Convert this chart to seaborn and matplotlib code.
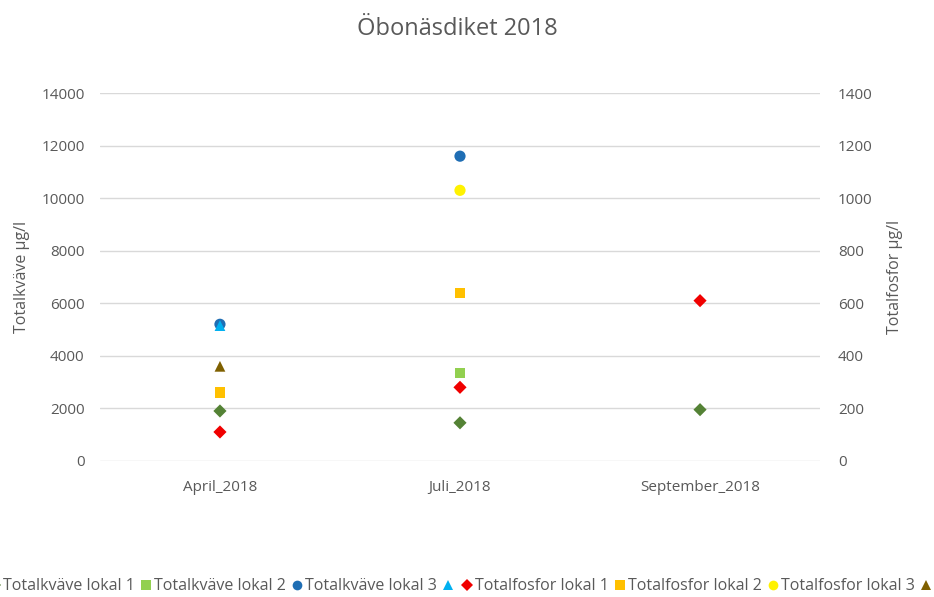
import matplotlib
matplotlib.use("Agg")
import matplotlib.pyplot as plt
import seaborn as sns
import pandas as pd
from matplotlib import font_manager

categories = ["April_2018", "Juli_2018", "September_2018"]

# Totalkväve (left axis, µg/l)
kvave_lokal1 = [1900, 1450, 1950]
kvave_lokal2 = [None, 3350, None]
kvave_lokal3 = [5200, 11600, None]
kvave_lokal4 = [5150, None, None]
# Totalfosfor (right axis, µg/l)
fosfor_lokal1 = [110, 280, 610]
fosfor_lokal2 = [260, 640, None]
fosfor_lokal3 = [None, 1030, None]
fosfor_lokal4 = [360, None, None]

left_ticks = [0, 2000, 4000, 6000, 8000, 10000, 12000, 14000]
right_ticks = [0, 200, 400, 600, 800, 1000, 1200, 1400]

names = set(f.name for f in font_manager.fontManager.ttflist)
fam = "Open Sans" if "Open Sans" in names else "DejaVu Sans"

sns.set_theme(style="white")
plt.rcParams["font.family"] = [fam, "DejaVu Sans"]

grey = "#595959"
fig = plt.figure(figsize=(9.34, 5.97), dpi=100)
ax = fig.add_axes([0.107, 0.228, 0.771, 0.616])
ax2 = ax.twinx()

series = [
    (ax, "Totalkväve lokal 1", kvave_lokal1, "D", "#548235", 45),
    (ax, "Totalkväve lokal 2", kvave_lokal2, "s", "#92D050", 55),
    (ax, "Totalkväve lokal 3", kvave_lokal3, "o", "#1F6EB4", 65),
    (ax, "", kvave_lokal4, "^", "#00B0F0", 60),
    (ax2, "Totalfosfor lokal 1", fosfor_lokal1, "D", "#F00000", 45),
    (ax2, "Totalfosfor lokal 2", fosfor_lokal2, "s", "#FFC000", 55),
    (ax2, "Totalfosfor lokal 3", fosfor_lokal3, "o", "#FFF200", 65),
    (ax2, "", fosfor_lokal4, "^", "#7F6000", 60),
]

handles = []
labels = []
for a, name, vals, mk, col, sz in series:
    df = pd.DataFrame({"x": range(len(categories)), "y": vals}).dropna()
    sns.scatterplot(data=df, x="x", y="y", ax=a, marker=mk, color=col, s=sz,
                    edgecolor="none", linewidth=0, zorder=3, legend=False)
    handles.append(plt.Line2D([], [], marker=mk, color=col, linestyle="none",
                              markersize=7 if mk != "D" else 6.5, markeredgewidth=0))
    labels.append(name)

for a in (ax, ax2):
    a.set_xlim(-0.5, 2.5)
    for s in a.spines.values():
        s.set_visible(False)
    a.tick_params(axis="both", length=0, colors=grey, labelsize=11)
    a.set_xlabel("")

ax.set_ylim(0, 14000)
ax2.set_ylim(0, 1400)
ax.set_yticks(left_ticks)
ax2.set_yticks(right_ticks)
ax.yaxis.grid(True, color="#D9D9D9", linewidth=1)
ax2.grid(False)
ax.set_xticks(range(len(categories)))
ax.set_xticklabels(categories)
ax.tick_params(axis="x", pad=14)
ax.tick_params(axis="y", pad=11)
ax2.tick_params(axis="y", pad=13)

ax.set_ylabel("Totalkväve µg/l", color=grey, fontsize=11.5, labelpad=8)
ax2.set_ylabel("Totalfosfor µg/l", color=grey, fontsize=11.5, labelpad=10)
fig.suptitle("Öbonäsdiket 2018", color=grey, fontsize=17, x=0.49, y=0.972)

anchor_y = 0.018
leg = fig.legend(handles, labels, loc="center left", bbox_to_anchor=(0.0, anchor_y),
                 ncol=8, frameon=False, handlelength=0.6, handletextpad=0.2,
                 columnspacing=0.4, borderaxespad=0, borderpad=0,
                 prop={"family": [fam, "DejaVu Sans"], "size": 11.5})
for t in leg.get_texts():
    t.set_color(grey)

# shift legend so the first label text starts just inside the left edge
fig.canvas.draw()
r = fig.canvas.get_renderer()
x0 = leg.get_texts()[0].get_window_extent(r).x0
shift = (3 - x0) / fig.bbox.width
leg.set_bbox_to_anchor((shift, anchor_y), transform=fig.transFigure)

fig.savefig("out.png", dpi=100)
